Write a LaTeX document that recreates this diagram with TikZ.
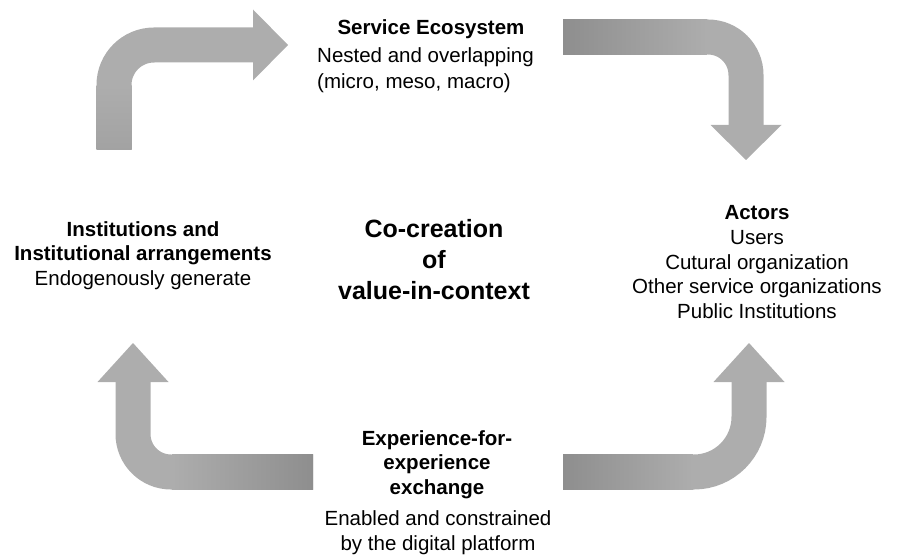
\documentclass[tikz,border=0pt]{standalone}
\usepackage{fontspec}
\setmainfont{Liberation Sans}
\usetikzlibrary{arrows.meta}
\definecolor{arrowgray}{RGB}{173,173,173}
\definecolor{arrowdark}{RGB}{142,142,142}

\begin{document}
\begin{tikzpicture}[x=1pt,y=-1pt]
\tikzset{flow/.style={line width=35pt,draw=arrowgray,rounded corners=#1},
	bighead/.style={-{Triangle[width=71pt,length=#1,line width=0pt]}},
	txt/.style={font=\fontsize{20.5}{24.5}\selectfont,align=center,anchor=base,inner sep=0pt},
	ttl/.style={txt,font=\fontsize{20.5}{24.5}\selectfont\bfseries},
	big/.style={txt,font=\fontsize{25}{31}\selectfont\bfseries}}
\useasboundingbox (0,0) rectangle (898,559);
\foreach \name/\point in {
	a1s/{114,150},
	a1e/{288,45},
	a2s/{563,37},
	a2e/{746,160},
	a3s/{313,472},
	a3e/{133,343},
	a4s/{563,472},
	a4e/{749,343}}
	\coordinate (\name) at (\point);
	\draw[flow=40,bighead=35pt] (a1s) |- (a1e);
	\draw[flow=38,bighead=35pt] (a2s) -| (a2e);
	\draw[flow=38,bighead=39pt] (a3s) -| (a3e);
	\draw[flow=55,bighead=39pt] (a4s) -| (a4e);
	\shade[top color=arrowgray,bottom color=arrowdark!35!arrowgray] (96.5,86) rectangle (131.5,150);
	\shade[left color=arrowdark,right color=arrowgray] (563,19.5) rectangle (707,54.5);
	\shade[left color=arrowgray,right color=arrowdark] (172,454.5) rectangle (313,489.5);
	\shade[left color=arrowdark,right color=arrowgray] (563,454.5) rectangle (693,489.5);
	\node[ttl] (eco) at (431,35) {Service Ecosystem};
	\node[txt,align=left,anchor=base west,font=\fontsize{20.5}{26}\selectfont] (ecobody) at (317,89) {Nested and overlapping\\(micro, meso, macro)};
	\node[ttl] (inst) at (143,261) {Institutions and\\Institutional arrangements};
	\node[txt] (instbody) at (143,286) {Endogenously generate};
	\node[big] (cocreation) at (434,299) {Co-creation\\of\\value-in-context};
	\node[ttl] (actors) at (757,220) {Actors};
	\node[txt] (actorsbody) at (757,318) {Users\\Cutural organization\\Other service organizations\\Public Institutions};
	\node[ttl] (exch) at (437,494) {Experience-for-\\experience\\exchange};
	\node[txt] (exchbody) at (438,550) {Enabled and constrained\\by the digital platform};
\end{tikzpicture}
\end{document}
